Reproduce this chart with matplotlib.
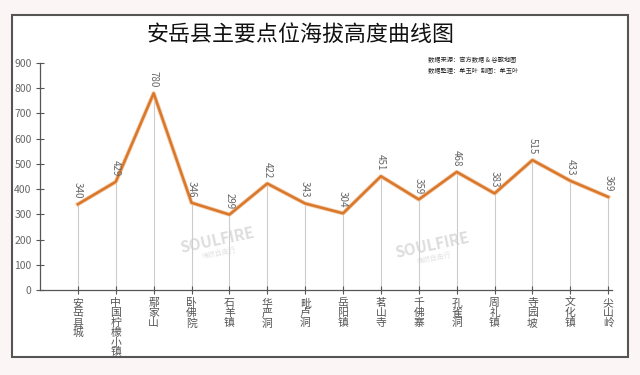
import matplotlib.pyplot as plt
from matplotlib.patches import Rectangle

plt.rcParams['font.family'] = ['Noto Sans CJK SC', 'DejaVu Sans']

## Data ##
places = ['安岳县城', '中国柠檬小镇', '鄢家山', '卧佛院', '石羊镇', '华严洞', '毗卢洞',
          '岳阳镇', '茗山寺', '千佛寨', '孔雀洞', '周礼镇', '寺园坡', '文化镇', '尖山岭']
heights = [340, 429, 780, 346, 299, 422, 343, 304, 451, 359, 468, 383, 515, 433, 369]
yticks = [0, 100, 200, 300, 400, 500, 600, 700, 800, 900]

fig = plt.figure(figsize=(6.4, 3.75), dpi=100)
fig.patch.set_facecolor('#fcf5f5')

# white frame
frame = Rectangle((12/640, 1-357/375), 616/640, 342/375, transform=fig.transFigure,
                  facecolor='white', edgecolor='#555555', linewidth=1.5, zorder=-5)
fig.patches.append(frame)

ax = fig.add_axes([40/640, 1-290/375, 572/640, 227/375], zorder=2)
ax.set_facecolor('none')

x = list(range(len(places)))
ax.vlines(x, 0, heights, color='#cccccc', linewidth=0.8, zorder=1)
ax.plot(x, heights, color='#f3c9a6', linewidth=3, zorder=2)
ax.plot(x, heights, color='#d9772b', linewidth=1.8, zorder=3)

for xi, h in zip(x, heights):
    ax.annotate(str(h), (xi, h), xytext=(0, 4), textcoords='offset points',
                rotation=270, ha='center', va='bottom', fontsize=7, color='#666666')

ax.set_xlim(-1, len(places) - 0.9)
ax.set_ylim(0, 900)
ax.set_yticks(yticks)
ax.set_xticks(x)
ax.set_xticklabels(['\n'.join(p) for p in places], fontsize=7.8, color='#555555',
                   linespacing=0.98, va='top')
ax.tick_params(axis='x', direction='inout', length=6, width=0.8, color='#555555', pad=3)
ax.tick_params(axis='y', direction='inout', length=6, width=0.8, color='#555555',
               labelsize=7.5, labelcolor='#666666', pad=3)
for s in ['top', 'right']:
    ax.spines[s].set_visible(False)
for s in ['left', 'bottom']:
    ax.spines[s].set_color('#555555')
    ax.spines[s].set_linewidth(0.9)

fig.text(300/640, 1-35/375, '安岳县主要点位海拔高度曲线图', ha='center', va='center',
         fontsize=15.8, color='#111111')
fig.text(428/640, 1-60/375, '数据来源：官方数据 & 谷歌地图', ha='left', va='center',
         fontsize=4.5, color='#222222')
fig.text(428/640, 1-71/375, '数据整理：牟玉叶  制图：牟玉叶', ha='left', va='center',
         fontsize=4.5, color='#222222')

# watermarks
for wx, wy in [(217, 240), (432, 245)]:
    fig.text(wx/640, 1-wy/375, 'SOULFIRE', ha='center', va='center', fontsize=11,
             fontweight='bold', color='#dddddd', rotation=12, zorder=0)
    fig.text((wx+2)/640, 1-(wy+13)/375, '魂燃自由行', ha='center', va='center',
             fontsize=5, color='#e3e3e3', rotation=12, zorder=0)

fig.savefig('out.png', dpi=100, facecolor=fig.get_facecolor())
